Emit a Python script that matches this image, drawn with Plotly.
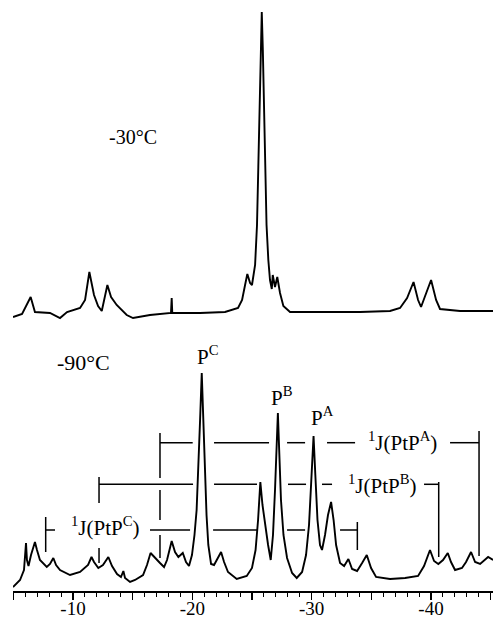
import plotly.graph_objects as go

# ---------------- data ----------------
# -30 °C spectrum: chemical shift (ppm) and intensity (arb. units above baseline)
top_ppm = [-4.97, -5.73, -6.45, -6.81, -8.07, -8.91, -9.50, -10.59, -11.01, -11.37,
           -11.76, -12.10, -12.41, -12.64, -12.88, -13.19, -13.66, -14.50, -15.03, -16.45,
           -18.21, -18.27, -18.32, -20.65, -22.74, -23.83, -24.17, -24.42, -24.61, -24.84,
           -25.00, -25.26, -25.42, -25.53, -25.64, -25.72, -25.82, -25.91, -26.00, -26.09,
           -26.22, -26.37, -26.51, -26.66, -26.74, -26.93, -27.12, -27.35, -27.63, -28.19,
           -30.70, -34.06, -36.57, -37.41, -38.00, -38.54, -38.92, -39.17, -39.51, -40.01,
           -40.43, -40.76, -42.44, -45.20]
top_int = [-4, -1, 16, 1, 0, -5, 1, 5, 13, 41,
           18, 7, 2, 15, 28, 16, 8, -2, -5, -2,
           0, 15, 0, 0, 1, 5, 13, 28, 39, 30,
           28, 48, 88, 146, 213, 263, 301, 263, 213, 146,
           88, 53, 33, 24, 38, 26, 36, 20, 7, 1,
           1, 1, 2, 5, 15, 31, 13, 6, 17, 33,
           13, 4, 2, 2]

# -90 °C spectrum
bottom_ppm = [-4.97, -5.56, -5.89, -6.06, -6.14, -6.27, -6.48, -6.81, -6.98, -7.23,
              -7.80, -8.07, -8.35, -8.58, -8.91, -9.75, -10.59, -11.26, -11.55, -11.76,
              -12.12, -12.51, -12.96, -13.27, -13.69, -14.02, -14.22, -14.36, -14.78, -15.20,
              -15.87, -16.20, -16.50, -16.87, -17.29, -17.63, -17.88, -18.27, -18.55, -18.83,
              -19.20, -19.47, -19.72, -19.97, -20.18, -20.36, -20.51, -20.65, -20.79, -20.92,
              -21.02, -21.19, -21.34, -21.57, -21.82, -22.15, -22.41, -22.66, -22.99, -23.72,
              -24.56, -25.00, -25.30, -25.51, -25.70, -25.88, -26.09, -26.35, -26.57, -26.76,
              -26.93, -27.07, -27.17, -27.28, -27.43, -27.64, -27.94, -28.36, -28.75, -29.20,
              -29.53, -29.78, -29.99, -30.16, -30.31, -30.49, -30.70, -30.87, -31.12, -31.37,
              -31.63, -31.84, -32.05, -32.38, -32.72, -33.08, -33.39, -33.81, -34.23, -34.62,
              -34.98, -35.40, -36.57, -37.83, -38.92, -39.42, -39.92, -40.26, -40.62, -41.01,
              -41.41, -41.68, -42.02, -42.60, -42.94, -43.36, -43.70, -44.12, -44.79, -45.21]
bottom_int = [-11, -4, 6, 33, 16, 10, 21, 34, 26, 16,
              9, 12, 18, 11, 6, 1, 4, 11, 19, 14,
              8, 11, 19, 10, 2, -1, 5, -2, -6, -4,
              1, 11, 23, 18, 13, 9, 16, 35, 24, 19,
              23, 14, 10, 21, 41, 66, 106, 156, 203, 156,
              106, 61, 31, 12, 11, 18, 24, 14, 4, -3,
              0, 8, 26, 56, 94, 71, 51, 31, 16, 41,
              86, 131, 163, 126, 76, 41, 18, 3, -2, 4,
              21, 51, 101, 140, 101, 56, 31, 26, 41, 61,
              74, 56, 31, 13, 10, 17, 7, 5, 13, 21,
              8, -1, -3, -2, 0, 10, 26, 15, 12, 16,
              23, 14, 6, 8, 14, 24, 14, 12, 19, 16]

labelled_ticks = [-10, -20, -30, -40]
labelled_text = ["-10", "-20", "-30", "-40"]
major_ticks = [-5, -10, -15, -20, -25, -30, -35, -40, -45]

# ---------------- layout constants ----------------
TOP_BASE = 278
BOTTOM_BASE = 15
FONT = "Liberation Serif, Times New Roman, serif"
XRANGE = [-4.97, -45.2]

fig = go.Figure()
fig.add_trace(go.Scatter(x=top_ppm, y=[v + TOP_BASE for v in top_int], mode="lines",
                         line=dict(color="black", width=1.9), hoverinfo="skip"))
fig.add_trace(go.Scatter(x=bottom_ppm, y=[v + BOTTOM_BASE for v in bottom_int], mode="lines",
                         line=dict(color="black", width=1.9), hoverinfo="skip"))
# invisible trace that carries the second (tick-only) x axis
fig.add_trace(go.Scatter(x=[XRANGE[0]], y=[None], xaxis="x2", mode="lines",
                         showlegend=False, hoverinfo="skip"))

# coupling-constant brackets
def seg(x0, x1, y0, y1):
    fig.add_shape(type="line", xref="x", yref="y", x0=x0, x1=x1, y0=y0, y1=y1,
                  line=dict(color="black", width=1.5))

yA, yB, yC = 148.3, 106.7, 61
for a, b in [(-17.29, -20.03), (-21.82, -26.43), (-27.94, -29.45), (-31.29, -33.64), (-41.60, -44.03)]:
    seg(a, b, yA, yA)
for a, b in [(-12.18, -20.06), (-21.82, -25.42), (-28.02, -29.53), (-30.87, -31.71), (-39.42, -40.65)]:
    seg(a, b, yB, yB)
for a, b in [(-7.71, -8.49), (-16.45, -19.81), (-21.74, -25.42), (-27.94, -29.45), (-32.38, -33.83)]:
    seg(a, b, yC, yC)
for x, y0, y1 in [(-17.29, 158, 113), (-17.29, 101, 71), (-17.29, 56, 33), (-44.03, 160, 35),
                  (-12.18, 114, 88), (-12.18, 43, 28), (-40.65, 109, 34),
                  (-7.71, 74, 39), (-33.83, 69, 41)]:
    seg(x, x, y0, y1)

def label(x, y, text, size):
    fig.add_annotation(x=x, y=y, xref="x", yref="y", text=text, showarrow=False,
                       font=dict(family=FONT, size=size, color="black"),
                       xanchor="center", yanchor="middle")

label(-15.03, 454, "-30°C", 20)
label(-10.84, 229, "-90°C", 22)
label(-21.30, 236, "P<sup>C</sup>", 21)
label(-27.52, 195, "P<sup>B</sup>", 21)
label(-30.91, 175, "P<sup>A</sup>", 21)
label(-37.62, 150, "<sup>1</sup>J(PtP<sup>A</sup>)", 21)
label(-35.94, 107, "<sup>1</sup>J(PtP<sup>B</sup>)", 21)
label(-12.72, 65, "<sup>1</sup>J(PtP<sup>C</sup>)", 21)

fig.update_layout(
    width=493, height=619,
    margin=dict(l=13, r=0, t=0, b=28),
    paper_bgcolor="white", plot_bgcolor="white",
    showlegend=False,
    xaxis=dict(range=XRANGE, autorange=False, automargin=False, showgrid=False, zeroline=False,
               showline=True, linecolor="black", linewidth=1.5,
               ticks="", tickmode="array", tickvals=labelled_ticks, ticktext=labelled_text,
               tickfont=dict(family=FONT, size=19, color="black"),
               minor=dict(tickmode="linear", tick0=0, dtick=1, ticks="outside",
                          ticklen=4, tickwidth=1, tickcolor="black")),
    xaxis2=dict(range=XRANGE, autorange=False, automargin=False, overlaying="x",
                matches="x", side="bottom", anchor="y",
                showgrid=False, zeroline=False, showline=False,
                ticks="outside", ticklen=8, tickwidth=1.5, tickcolor="black",
                tickmode="array", tickvals=major_ticks, showticklabels=False),
    yaxis=dict(range=[0, 591], visible=False, showgrid=False, zeroline=False,
               automargin=False),
)

# remove the browser's default 8px page margin so the figure sits at the window origin
fig.write_html("out.html", config={"displayModeBar": False, "staticPlot": True},
               post_script="document.body.style.margin='0';document.body.style.overflow='hidden';")
